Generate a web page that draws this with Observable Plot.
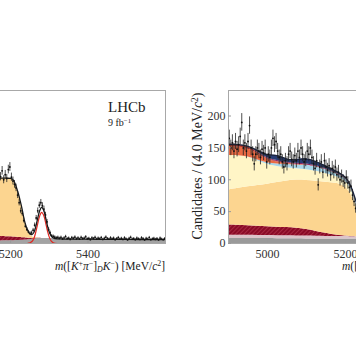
<!DOCTYPE html>
<html><head><meta charset="utf-8">
<script src="https://cdn.jsdelivr.net/npm/d3@7"></script>
<script src="https://cdn.jsdelivr.net/npm/@observablehq/plot@0.6"></script>
<style>
html,body{margin:0;padding:0;width:356px;height:364px;overflow:hidden;background:#fff;}
#wrap{position:relative;width:356px;height:364px;overflow:hidden;}
.abs{position:absolute;}
.abs svg{max-width:none !important;}
.lbl{position:absolute;font-family:"Liberation Serif",serif;color:#222;white-space:nowrap;line-height:1;}
.lbl sup{font-size:0.68em;vertical-align:0.45em;line-height:0;}
.lbl sub{font-size:0.68em;vertical-align:-0.25em;line-height:0;}
</style></head><body><div id="wrap">
<div id="left" class="abs" style="left:-106px;top:80px;width:281px;height:193px"></div>
<div id="right" class="abs" style="left:198px;top:80px;width:313px;height:193px"></div>
<div class="lbl" style="left:108px;top:100px;font-size:15px">LHCb</div>
<div class="lbl" style="left:108px;top:118px;font-size:10px">9 fb<sup>−1</sup></div>
<div class="lbl" style="left:0;width:165px;text-align:right;top:261px;font-size:11.5px"><i>m</i>([<i>K</i><sup>+</sup><i>π</i><sup>−</sup>]<sub><i>D</i></sub><i>K</i><sup>−</sup>) [MeV/<i>c</i><sup>2</sup>]</div>
<div class="lbl" style="left:342px;top:261px;font-size:11.5px"><i>m</i>([<i>K</i><sup>+</sup><i>π</i><sup>−</sup>]<sub><i>D</i></sub><i>K</i><sup>−</sup>) [MeV/<i>c</i><sup>2</sup>]</div>
<div class="lbl" style="left:198px;top:166px;font-size:14px;transform:translate(-50%,-50%) rotate(-90deg)">Candidates / (4.0 MeV/<i>c</i><sup>2</sup>)</div>
</div>
<script>
// ---------- LEFT PANEL (B- -> [K+pi-]_D K-) ----------
const leftKnots = [5160,5175,5190,5200,5205,5210,5215,5220,5225,5230,5235,5240,5245,5250,5255,5260,5265,5270,5275,5280,5285,5290,5295,5300,5305,5310,5320,5330,5340,5360,5400,5450,5500,5550,5600];
const leftComb   = [10,10,11,11,11,11,12,12,12,13,13,14,15,16,17,18,19,20,20,20,20,20,20,20,20,19,18,18,17,17,17,16,16,15,15];
const leftLowBs  = [18,17,16,15,14.5,14,13,12,11,10,9,8,6,4,3,2,1.5,1,0.5,0,0,0,0,0,0,0,0,0,0,0,0,0,0,0,0];
const leftPartReco = [228,229,229,229,226,215,195,171,142,109,72,45,26,14,7,3,1.5,0.5,0,0,0,0,0,0,0,0,0,0,0,0,0,0,0,0,0];
const leftSignal = [0,0,0,0,0,0,0,0,0,0,0,0,1,3,8,20,45,78,108,122,112,84,50,24,9,3,0,0,0,0,0,0,0,0,0];
const leftBinStart = 5174, binWidth = 4;
const leftCounts = [262,285,250,270,255,290,300,260,245,232,218,190,160,128,118,90,68,55,45,40,42,52,72,100,128,150,160,148,135,112,85,55,42,30,28,25,22,24,
20,24,18,22,27,19,21,16,23,20,25,18,22,17,24,19,21,26,18,20,15,22,19,24,17,21,18,23,16,20,25,19,17,22,18,21,15,19,23,17,20,16,22,18,14,20,24,17,19,15,21,18,16,22,19,14,20,17,23,15,18,20,16,19,14,21,17,15,19];

// ---------- RIGHT PANEL ----------
const rightKnots = [4900,4925,4950,4975,5000,5025,5050,5075,5100,5125,5150,5175,5200,5215,5230,5245,5260,5280,5300,5400,5500,5600];
const rComb     = [8,8,8,8,8,7.5,7.5,7.5,7,7,7,7,7,7,7,7,7,6.5,6.5,6,5.5,5];
const rMisID    = [5,5,5,4.5,4.5,4.5,4.5,4.5,4.5,4.5,4,4,4,3.5,3.5,3.5,3,3.5,3.5,3,3,3];
const rBs       = [16,15.5,15,14.5,13.5,13.5,13,12,10.5,7.5,5,2,0.5,0.3,0.2,0.1,0,0,0,0,0,0];
const rPartReco = [55,58,61,64,67,70,73,76,77,79,80,82,79,67,42,15,4,0.5,0,0,0,0];
const rPartReco2= [54,51.5,47,39,31,25,21,17,17,15.5,14,10,9,8,5,3,1,0.3,0,0,0,0];
const rBlue     = [0,0,0,1,2,4,5,6,7,7,6,5,4,3,2,1,0,0,0,0,0,0];
const rRedOr    = [14,14,13,10,5,3,1.5,0.7,0.4,0.4,0.2,0.1,0,0,0,0,0,0,0,0,0,0];
const rRedDark  = [3,3,3,2,1,1,0.5,0.3,0.1,0.1,0.1,0.1,0,0,0,0,0,0,0,0,0,0];
const rMaroon   = [0.5,0.5,0.5,1,1.5,1.5,1.5,1.5,1.5,1.5,1.2,1,0.8,0.5,0.3,0.1,0,0,0,0,0,0];
const rNavy     = [0,0,0.5,2,4,10,3,6,9,6,4,2.5,1.5,0.8,0.4,0.2,0,0,0,0,0,0];
const rightBinStart = 4902;
const rightCounts = [165,150,158,145,160,148,155,168,190,150,158,145,160,185,150,140,125,140,150,145,135,148,142,150,128,140,135,150,165,155,160,145,135,140,128,120,130,125,140,145,132,128,138,130,145,135,150,140,128,132,145,140,150,135,125,118,130,92,120,128,112,130,120,115,122,108,118,112,120,108,112,100,105,98,95,104,95,88,90,76,66,55];

const fontFam = '"Liberation Serif", serif';

function build(knots, comps) {
  const rows = [];
  comps.forEach(c => knots.forEach((x, i) => rows.push({x, y: c.values[i], comp: c.name})));
  return rows;
}
function totals(knots, arrs) {
  return knots.map((x, i) => ({x, y: arrs.reduce((s, a) => s + a[i], 0)}));
}
function points(start, counts) {
  return counts.map((n, i) => ({x: start + binWidth * i, n}));
}
function addHatch(svg, id) {
  const defs = d3.select(svg).insert("defs", ":first-child");
  const p = defs.append("pattern").attr("id", id).attr("patternUnits", "userSpaceOnUse")
    .attr("width", 3).attr("height", 3).attr("patternTransform", "rotate(45)");
  p.append("rect").attr("width", 3).attr("height", 3).attr("fill", "#8a0a26");
  p.append("line").attr("x1", 0).attr("y1", 0).attr("x2", 0).attr("y2", 3).attr("stroke", "#c2455b").attr("stroke-width", 1);
}
const baseStyle = {fontFamily: fontFam, fontSize: "12px", color: "#333", background: "transparent", maxWidth: "none", overflow: "visible"};

// LEFT
const leftComps = [
  {name: "comb", values: leftComb, color: "#a3a3a3"},
  {name: "bs", values: leftLowBs, color: "url(#hatchL)"},
  {name: "partreco", values: leftPartReco, color: "#fcd590"}
];
const leftRows = build(leftKnots, leftComps);
const leftTot = totals(leftKnots, [leftComb, leftLowBs, leftPartReco, leftSignal]);
const leftSig = leftKnots.map((x, i) => ({x, y: leftSignal[i]}));
const leftPts = points(leftBinStart, leftCounts);

const leftPlot = Plot.plot({
  width: 281, height: 193,
  marginLeft: 0, marginRight: 10, marginTop: 10, marginBottom: 30,
  style: baseStyle,
  x: {domain: [4900, 5600]},
  y: {domain: [0, 600], axis: null},
  color: {type: "ordinal", domain: leftComps.map(c => c.name), range: leftComps.map(c => c.color)},
  marks: [
    Plot.areaY(leftRows, {x: "x", y: "y", fill: "comp", order: leftComps.map(c => c.name), curve: "basis", clip: true}),
    Plot.lineY(leftSig, {x: "x", y: "y", stroke: "#e0261f", strokeWidth: 1.2, curve: "catmull-rom", clip: true}),
    Plot.lineY(leftTot, {x: "x", y: "y", stroke: "#1a1a1a", strokeWidth: 1.3, curve: "catmull-rom", clip: true}),
    Plot.ruleX(leftPts, {x: "x", y1: d => d.n - Math.sqrt(d.n), y2: d => d.n + Math.sqrt(d.n), stroke: "#222", strokeWidth: 0.8, clip: true}),
    Plot.dot(leftPts, {x: "x", y: "n", r: 0.9, fill: "#111", clip: true}),
    Plot.frame({stroke: "#a8a8a8"}),
    Plot.axisX({ticks: [5000, 5200, 5400], tickFormat: d => String(d), tickSize: -3, tickPadding: 9, stroke: "#999", label: null})
  ]
});
addHatch(leftPlot, "hatchL");
document.getElementById("left").appendChild(leftPlot);

// RIGHT
const rightComps = [
  {name: "comb", values: rComb, color: "#9a9a9a"},
  {name: "misid", values: rMisID, color: "#dcc4ca"},
  {name: "bs", values: rBs, color: "url(#hatchR)"},
  {name: "partreco", values: rPartReco, color: "#fcd590"},
  {name: "partreco2", values: rPartReco2, color: "#fff5c6"},
  {name: "blue", values: rBlue, color: "#a9d6e8"},
  {name: "redor", values: rRedOr, color: "#ea6a43"},
  {name: "reddark", values: rRedDark, color: "#c0352a"},
  {name: "maroon", values: rMaroon, color: "#8a1f5c"},
  {name: "navy", values: rNavy, color: "#283c74"}
];
const rightRows = build(rightKnots, rightComps);
const rightTot = totals(rightKnots, rightComps.map(c => c.values));
const rightPts = points(rightBinStart, rightCounts);

const rightPlot = Plot.plot({
  width: 313, height: 193,
  marginLeft: 30, marginRight: 10, marginTop: 10, marginBottom: 30,
  style: baseStyle,
  x: {domain: [4900, 5600]},
  y: {domain: [0, 240]},
  color: {type: "ordinal", domain: rightComps.map(c => c.name), range: rightComps.map(c => c.color)},
  marks: [
    Plot.areaY(rightRows, {x: "x", y: "y", fill: "comp", order: rightComps.map(c => c.name), curve: "basis", clip: true}),
    Plot.lineY(rightTot, {x: "x", y: "y", stroke: "#1c2540", strokeWidth: 1.3, curve: "basis", clip: true}),
    Plot.ruleX(rightPts, {x: "x", y1: d => d.n - Math.sqrt(d.n), y2: d => d.n + Math.sqrt(d.n), stroke: "#222", strokeWidth: 0.8, clip: true}),
    Plot.dot(rightPts, {x: "x", y: "n", r: 0.9, fill: "#111", clip: true}),
    Plot.frame({stroke: "#a8a8a8"}),
    Plot.axisX({ticks: [5000, 5100, 5200, 5300, 5400, 5500], tickFormat: d => (d % 200 === 0 ? String(d) : ""), tickSize: -3, tickPadding: 9, stroke: "#999", label: null}),
    Plot.axisY({ticks: [0, 50, 100, 150, 200], tickFormat: d => String(d), tickSize: -3, tickPadding: 6, stroke: "#999", label: null})
  ]
});
addHatch(rightPlot, "hatchR");
document.getElementById("right").appendChild(rightPlot);
</script>
</body></html>
